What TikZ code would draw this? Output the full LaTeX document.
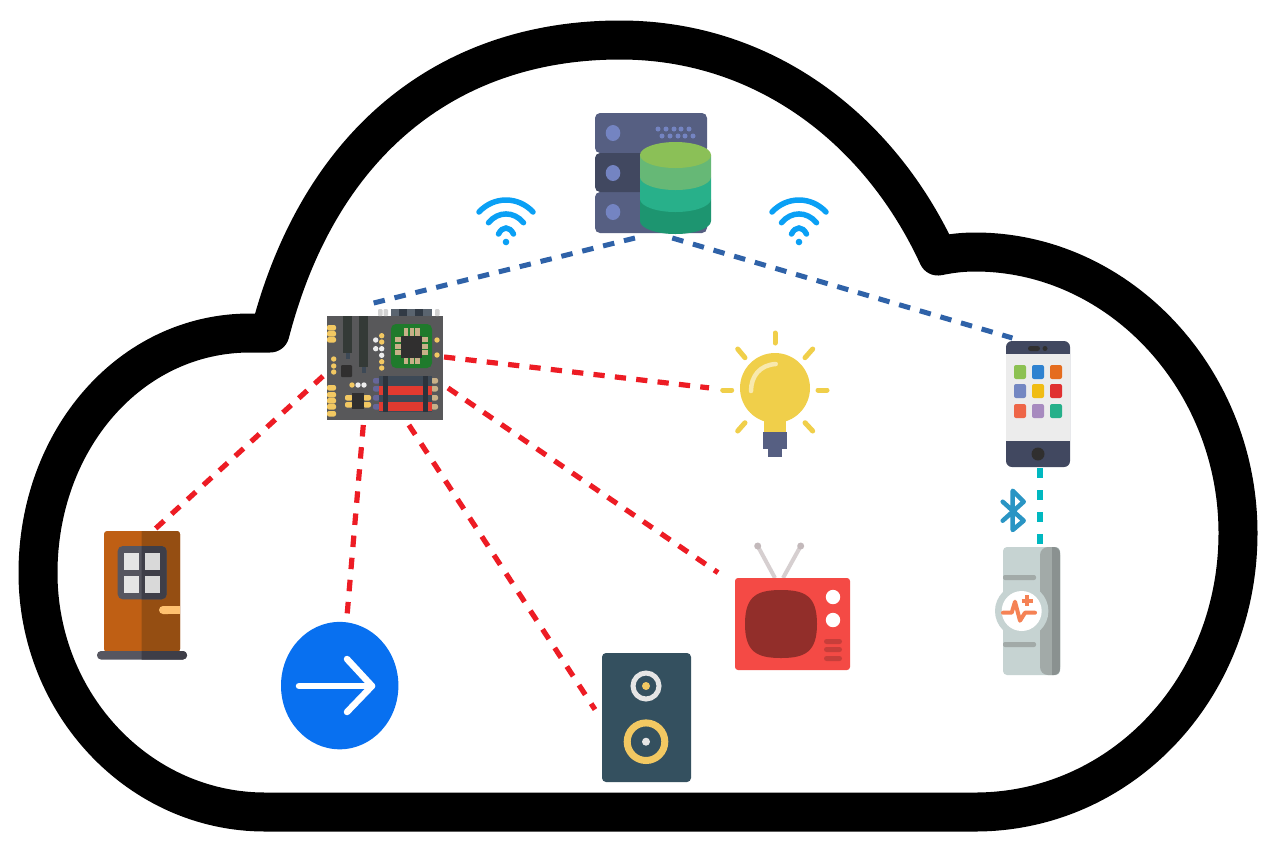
\documentclass[tikz,border=0pt]{standalone}
\usepackage{xcolor}
\usetikzlibrary{positioning}

\definecolor{linkblue}{HTML}{2F62A8}
\definecolor{linkred}{HTML}{ED1C24}
\definecolor{linkteal}{HTML}{00B8C0}
\definecolor{wifiblue}{HTML}{0AA0F5}
\definecolor{slate}{HTML}{565F82}
\definecolor{slatedark}{HTML}{414860}
\definecolor{diskblue}{HTML}{7484C2}
\definecolor{dbtop}{HTML}{8BC057}
\definecolor{lampyellow}{HTML}{F0CF4A}
\definecolor{padyellow}{HTML}{F2C862}
\definecolor{padtan}{HTML}{C8B088}
\definecolor{boardgray}{HTML}{58585A}
\definecolor{chipblack}{HTML}{302F2F}
\definecolor{slotblack}{HTML}{343A37}
\definecolor{chipgreen}{HTML}{1F7A2C}
\definecolor{ramred}{HTML}{E03A30}
\definecolor{ramslate}{HTML}{3D4956}
\definecolor{strapgray}{HTML}{C6D3D2}
\definecolor{strapmid}{HTML}{A2AAA8}
\definecolor{strapdark}{HTML}{8A9190}
\definecolor{pulse}{HTML}{F58255}
\definecolor{doorleft}{HTML}{BF5F14}
\definecolor{doorright}{HTML}{954E12}
\definecolor{frameleft}{HTML}{565660}
\definecolor{frameright}{HTML}{3E3E48}
\definecolor{tvred}{HTML}{F44A45}
\definecolor{tvscreen}{HTML}{922E2A}
\definecolor{tvslit}{HTML}{C73E3A}
\definecolor{speakerbody}{HTML}{34505F}
\definecolor{buttonblue}{HTML}{0870F0}

\begin{document}
\begin{tikzpicture}[
      x=0.02cm, y=-0.02cm,
      lw/.style={line width=#1*0.02cm},
      rc/.style={rounded corners=#1*0.02cm},
      iconbox/.style 2 args={minimum width=#1*0.02cm, minimum height=#2*0.02cm, inner sep=0pt, outer sep=0pt},
      cloudline/.style={draw=black, lw=39, line join=round},
      bluelink/.style={draw=linkblue, lw=5, dash pattern=on 0.23cm off 0.2cm},
      redlink/.style={draw=linkred, lw=5.2, dash pattern=on 0.225cm off 0.205cm},
      steeplink/.style={redlink, dash pattern=on 0.23cm off 0.214cm},
      teallink/.style={draw=linkteal, lw=5.5, dash pattern=on 0.2cm off 0.24cm},
      roundline/.style={line cap=round, line join=round}
  ]

  \useasboundingbox (0,0) rectangle (1275,850);
  \fill[white] (0,0) rectangle (1275,850);

  % Cloud
  \draw[cloudline] (265,812) -- (975,812)
    .. controls (1120,812) and (1238,690) .. (1238,533)
    .. controls (1238,380) and (1120,252) .. (975,252)
    .. controls (960,252) and (948,254) .. (938,256)
    .. controls (880,130) and (765,40) .. (620,40)
    .. controls (450,40) and (320,140) .. (270,333)
    -- (250,333)
    .. controls (130,333) and (38,440) .. (38,573)
    .. controls (38,705) and (140,812) .. (265,812) -- cycle;

  % Nodes
  \node[iconbox={125}{122}] (mcu) at (385.5,364) {};
  \node[iconbox={118}{126}] (server) at (653,175) {};
  \node[iconbox={136}{126}] (bulb) at (777,395) {};
  \node[iconbox={68}{130}] (phone) at (1040,403) {};
  \node[iconbox={90}{129}] (band) at (1040,611.5) {};
  \node[iconbox={133}{127}] (tv) at (784.5,606.5) {};
  \node[iconbox={96}{128}] (speaker) at (643,718) {};
  \node[iconbox={118}{135}] (button) at (340,682.5) {};
  \node[iconbox={91}{130}] (door) at (142.5,595) {};

  % Arrows
  \draw[bluelink] (mcu.101.6) -- (server.-106);
  \draw[bluelink] (server.-73) -- (phone.113.3);
  \draw[redlink, shorten <=-0.08cm] (mcu.6.84) -- (bulb.174.7);
  \draw[redlink] (mcu.-21) -- (tv.153.1);
  \draw[steeplink] (mcu.-69.8) -- (speaker.170.5);
  \draw[steeplink] (mcu.-110.5) -- (button.84);
  \draw[redlink] (mcu.191.75) -- (door.80.8);
  \draw[teallink] (phone.south) -- (band.north);

  % Board
  \fill[boardgray] (327,316) rectangle (443,420);
  \fill[ramslate!85!white] (391,309) rectangle (432,316);
  \foreach \px in {399,415}
    \fill[ramslate!80!black] (\px,309) rectangle +(8,7);
  \foreach \px in {378,383.5,435}
    \fill[gray!35, rc=1] (\px,309) rectangle +(4.5,7);
  \foreach \px/\py/\pl in {343/316/37,359/316/51}{
    \fill[slotblack] (\px,\py) rectangle +(9,\pl);
    \fill[ramslate] (\px+2.5,\py+\pl) rectangle +(4,6);
  }
  \foreach \py in {325,331,337,385,392,398,404,411}
    \fill[padyellow, rc=2] (327,\py) rectangle +(9,5.5);
  \fill[chipgreen, rc=5] (391,324) rectangle (432,368);
  \foreach \px in {403.5,409.5,415}{
    \fill[padtan] (\px,328) rectangle +(4.5,8);
    \fill[padtan] (\px,358) rectangle +(4.5,6);
  }
  \foreach \py in {337,344,350}{
    \fill[padtan] (395,\py) rectangle +(6,5);
    \fill[padtan] (421,\py) rectangle +(7,5);
  }
  \fill[chipblack] (401,336) rectangle (422,358);
  \foreach \px/\py in {381.7/335.7,381.7/342,333.7/359,333.7/366,333.7/372,352/385,381.7/361.7,381.7/368,437/340,437/355}
    \fill[padyellow] (\px,\py) circle[radius=2.7];
  \foreach \px/\py in {375.7/340,375.7/348.7,381.7/348.7,381.7/355.3,358/385,364/385}
    \fill[gray!15] (\px,\py) circle[radius=2.7];
  \fill[chipblack, rc=1] (341,365) rectangle (352,377);
  \foreach \py in {395,402}{
    \fill[padyellow, rc=2] (345,\py) rectangle +(8,5.5);
    \fill[padyellow, rc=2] (363,\py) rectangle +(8,5.5);
  }
  \fill[chipblack] (352,393) rectangle (364,409);
  \foreach \py in {378,386,395,404}{
    \fill[gray!80!blue, rc=2] (373,\py) rectangle +(7,5.5);
    \fill[padtan, rc=2] (431,\py) rectangle +(7,5.5);
  }
  \fill[ramslate] (379,376) rectangle (432,412);
  \foreach \py in {386,402}
    \fill[ramred] (379,\py) rectangle +(53,9);
  \foreach \px in {383,423}
    \fill[ramslate!70!black] (\px,376) rectangle +(5,36);

  % Server
  \fill[slate, rc=5] (595,113) rectangle (707,153);
  \fill[slate, rc=5] (595,192) rectangle (707,233);
  \fill[slatedark, rc=5] (595,153) rectangle (707,192);
  \foreach \py in {133,173,212}
    \fill[diskblue] (613,\py) circle[x radius=7.3, y radius=8];
  \foreach \px in {658,666,674,681,689}{
    \fill[diskblue] (\px,129) circle[radius=2.5];
    \fill[diskblue] (\px+4,136) circle[radius=2.5];
  }
  \foreach \ytop/\ybot/\col in {199/221/1D9570,177/199/28B08A,155/177/66B876}{
    \definecolor{bandcol}{HTML}{\col}
    \fill[bandcol] (640,\ytop) -- (640,\ybot) arc (180:0:35.5 and 13) -- (711,\ytop) -- cycle;
  }
  \fill[dbtop] (675.5,155) circle[x radius=35.5, y radius=13];

  % Wifi
  \foreach \wx in {506,799}{
    \foreach \wend/\wtop/\wctrl in {27/212/196,17.5/222.7/211,7.5/234/226}
      \draw[wifiblue, lw=5.5, line cap=round] (\wx-\wend,\wtop) .. controls (\wx-\wend*0.45,\wctrl) and (\wx+\wend*0.45,\wctrl) .. (\wx+\wend,\wtop);
    \fill[wifiblue] (\wx,242) circle[radius=3.3];
  }

  % Bulb
  \foreach \ax/\ay/\bx/\by in {775/333/775/343,812.7/349/805/357.7,818/390/827/390,805/422.7/812.7/431,745/422.7/737.7/431,722.7/390/731.7/390,737.7/349/745/357.7}
    \draw[lampyellow, lw=5, line cap=round] (\ax,\ay) -- (\bx,\by);
  \fill[lampyellow] (775,388) circle[radius=35];
  \fill[lampyellow] (764,418) rectangle (786,433);
  \fill[slate] (763,432) rectangle (787,449);
  \fill[slate] (768,449) rectangle (782,457);
  \draw[lampyellow!45!white, lw=4.5, line cap=round] (751,391) .. controls (751,376) and (760,365) .. (775.7,364);

  % Phone
  \fill[slatedark, rc=6] (1006,341) rectangle (1070,467);
  \fill[gray!15!white] (1006,354) rectangle (1070,441);
  \fill[chipblack, rc=2.5] (1028,346) rectangle (1040,351);
  \fill[chipblack] (1045,348.5) circle[radius=2.5];
  \fill[chipblack] (1038,454) circle[radius=6.5];
  \foreach \py/\cola/\colb/\colc in {365/8CC152/2F82D0/E56C1E,384/7487C2/F0BC14/E03030,404/EE6648/A78ABF/26B08A}{
    \definecolor{appa}{HTML}{\cola}
    \definecolor{appb}{HTML}{\colb}
    \definecolor{appc}{HTML}{\colc}
    \fill[appa, rc=2] (1014,\py) rectangle +(12,14);
    \fill[appb, rc=2] (1032,\py) rectangle +(12,14);
    \fill[appc, rc=2] (1050,\py) rectangle +(12,14);
  }

  % Bluetooth
  \definecolor{btblue}{HTML}{2A95C4}
  \draw[btblue, lw=4.5, roundline] (1002.7,501.7) -- (1023.7,520.7) -- (1012.7,530) -- (1012.7,490.7) -- (1023.7,501.7) -- (1002.7,520.7);

  % Band
  \fill[strapgray, rc=4] (1003,547) rectangle (1060,675);
  \fill[strapmid, rc=8] (1040,547) rectangle (1060,675);
  \fill[strapdark] (1052,547) [rc=6] -- (1060,547) -- (1060,675) [sharp corners] -- (1052,675) -- cycle;
  \foreach \py in {575,642}
    \fill[strapmid, rc=2] (1003,\py) rectangle +(33,5);
  \fill[strapgray] (1021.7,611) circle[radius=26.7];
  \fill[white] (1021.7,611) circle[radius=20];
  \draw[pulse, lw=4, roundline] (1003,612.7) -- (1011.7,612.7) -- (1015,601.7) -- (1020,620.7) -- (1025,612.7) -- (1035,612.7);
  \draw[pulse, lw=4] (1021.5,600.7) -- (1032.5,600.7) (1027,595.2) -- (1027,606.2);

  % TV
  \definecolor{antenna}{HTML}{D6CFD0}
  \definecolor{antennatip}{HTML}{C3B9BB}
  \draw[antenna, lw=4] (757.7,546) -- (775,578);
  \draw[antenna, lw=4] (800.7,546) -- (783,578);
  \fill[antennatip] (757.7,546) circle[radius=3.5];
  \fill[antennatip] (800.7,546) circle[radius=3.5];
  \fill[tvred, rc=3] (735,578) rectangle (850,670);
  \fill[tvscreen] (781,590) .. controls (805,590) and (817,596) .. (817,624) .. controls (817,652) and (805,658) .. (781,658) .. controls (757,658) and (745,652) .. (745,624) .. controls (745,596) and (757,590) .. (781,590) -- cycle;
  \foreach \py in {597,620}
    \fill[white] (833,\py) circle[radius=7.2];
  \foreach \py in {639,647,656}
    \fill[tvslit, rc=2.5] (824,\py) rectangle +(18,5);

  % Speaker
  \fill[speakerbody, rc=4] (602,653) rectangle (691,782);
  \draw[gray!20, lw=5] (646,686) circle[radius=13];
  \fill[padyellow] (646,686) circle[radius=4];
  \draw[padyellow, lw=7] (646,741.7) circle[radius=18.8];
  \fill[gray!20] (646,741.7) circle[radius=4];

  % Button
  \fill[buttonblue] (339.7,685.6) circle[x radius=58.7, y radius=63.7];
  \draw[white, lw=6.5, roundline] (299,686) -- (372,686);
  \draw[white, lw=6.5, roundline] (347,659) -- (372,686) -- (347,712);

  % Door
  \fill[doorleft, rc=3] (104,531) rectangle (180,652);
  \fill[doorright] (141.7,531) [rc=3] -- (180,531) -- (180,652) [sharp corners] -- (141.7,652) -- cycle;
  \fill[frameleft, rc=5] (117.7,546) rectangle (166.7,599.3);
  \fill[frameright] (141.7,546) [rc=5] -- (166.7,546) -- (166.7,599.3) [sharp corners] -- (141.7,599.3) -- cycle;
  \foreach \py in {553,576}{
    \fill[gray!20] (124,\py) rectangle +(15,16.5);
    \fill[gray!30] (145,\py) rectangle +(15,16.5);
  }
  \definecolor{handle}{HTML}{FFC170}
  \fill[handle, rc=4] (159,606) rectangle (172,614);
  \fill[handle] (165,606) rectangle (180,614);
  \fill[frameleft, rc=4] (97,651) rectangle (187,659.5);
  \fill[frameright] (141.7,651) [rc=4] -- (187,651) -- (187,659.5) [sharp corners] -- (141.7,659.5) -- cycle;

\end{tikzpicture}
\end{document}
